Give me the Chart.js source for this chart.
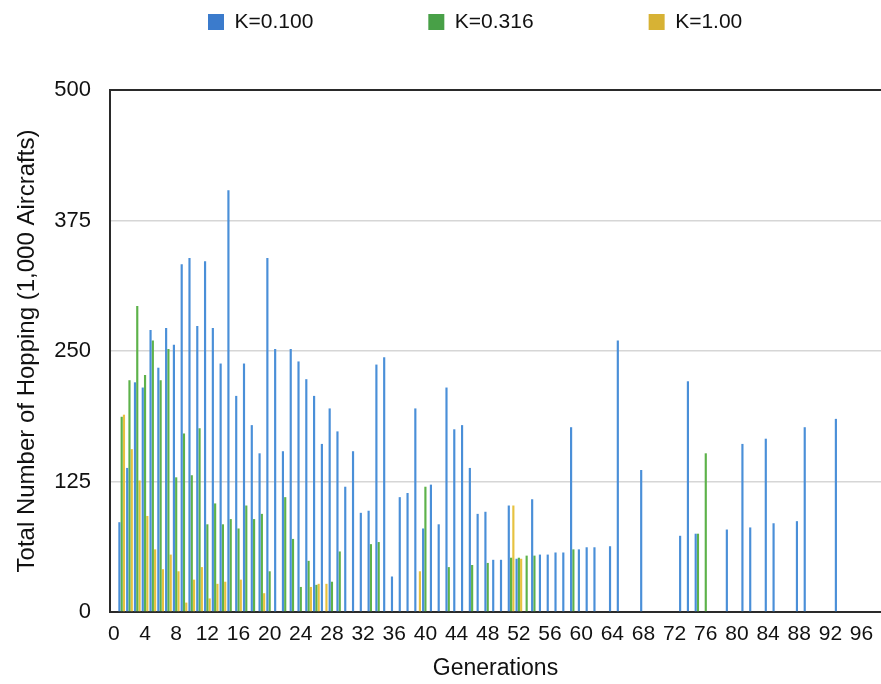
<!DOCTYPE html>
<html>
<head>
<meta charset="utf-8">
<script src="https://cdn.jsdelivr.net/npm/chart.js@4.4.1/dist/chart.umd.min.js"></script>
<style>
  html, body { margin: 0; padding: 0; background: #ffffff; }
  #wrap { width: 881px; height: 684px; position: relative; }
</style>
</head>
<body>
<div id="wrap"><canvas id="c"></canvas></div>
<script>
const generations = ['0','1','2','3','4','5','6','7','8','9','10','11','12','13','14','15','16','17','18','19',
  '20','21','22','23','24','25','26','27','28','29','30','31','32','33','34','35','36','37','38','39',
  '40','41','42','43','44','45','46','47','48','49','50','51','52','53','54','55','56','57','58','59',
  '60','61','62','63','64','65','66','67','68','69','70','71','72','73','74','75','76','77','78','79',
  '80','81','82','83','84','85','86','87','88','89','90','91','92','93','94','95','96','97','98'];

const seriesNames = ['K=0.100', 'K=0.316', 'K=1.00'];

const k0100 = [0,86,138,220,215,270,234,272,256,333,339,274,336,272,238,404,207,238,179,152,
  339,252,154,252,240,223,207,161,195,173,120,154,95,97,237,244,34,110,114,195,
  80,122,84,215,175,179,138,94,96,50,50,102,51,0,108,55,55,57,57,177,
  60,62,62,0,63,260,0,0,136,0,0,0,0,73,221,75,0,0,0,79,
  0,161,81,0,166,85,0,0,87,177,0,0,0,185,0,0,0,0,0];

const k0316 = [0,187,222,293,227,260,222,252,129,171,131,176,84,104,84,89,80,102,89,94,
  39,0,110,70,24,49,26,0,29,58,0,0,0,65,67,0,0,0,0,0,
  120,0,0,43,0,0,45,0,47,0,0,52,52,54,54,0,0,0,0,60,
  0,0,0,0,0,0,0,0,0,0,0,0,0,0,0,75,152,0,0,0,
  0,0,0,0,0,0,0,0,0,0,0,0,0,0,0,0,0,0,0];

const k1000 = [0,189,156,126,92,60,41,55,39,9,31,43,13,27,29,0,31,0,0,18,
  0,0,0,0,0,24,27,27,0,0,0,0,0,0,0,0,0,0,0,39,
  0,0,0,0,0,0,0,0,0,0,0,102,51,0,0,0,0,0,0,0,
  0,0,0,0,0,0,0,0,0,0,0,0,0,0,0,0,0,0,0,0,
  0,0,0,0,0,0,0,0,0,0,0,0,0,0,0,0,0,0,0];

const yTicks = [0, 125, 250, 375, 500];

const barColors = ['#4a8fd8', '#5db24a', '#e7c240'];
const legendColors = ['#3b7bcc', '#48a047', '#d7b234'];

const FONT = '"Liberation Sans", Arial, Helvetica, sans-serif';
Chart.defaults.font.family = FONT;
Chart.defaults.color = '#111';

const LEG_FONT = 21, LEG_BOX = 16, LEG_PAD = 115;
const LEG_START_X = 208, LEG_CENTER_Y = 22;

const legendTweak = {
  id: 'legendTweak',
  afterInit(chart) {
    const lg = chart.legend;
    if (!lg) return;
    const fit0 = lg.fit;
    lg.fit = function () { fit0.call(this); this.height = 90; };
    const draw0 = lg.draw;
    lg.draw = function () {
      const ctx = this.ctx;
      ctx.save();
      ctx.font = LEG_FONT + 'px ' + FONT;
      let sumW = 0;
      (this.legendItems || []).forEach(it => { sumW += LEG_BOX + LEG_FONT / 2 + ctx.measureText(it.text).width; });
      ctx.restore();
      const saved = { top: this.top, bottom: this.bottom, left: this.left, right: this.right };
      const start = (this.left + this.right - sumW - 2 * LEG_PAD) / 2;
      const dx = LEG_START_X - start;
      this.left = saved.left + dx;
      this.right = saved.right + dx;
      this.top = (LEG_CENTER_Y - LEG_FONT / 2) - LEG_PAD;
      this.bottom = saved.bottom;
      draw0.call(this);
      this.top = saved.top; this.bottom = saved.bottom; this.left = saved.left; this.right = saved.right;
    };
  }
};

new Chart(document.getElementById('c'), {
  type: 'bar',
  data: {
    labels: generations,
    datasets: [
      { label: seriesNames[0], data: k0100, backgroundColor: barColors[0], borderWidth: 0 },
      { label: seriesNames[1], data: k0316, backgroundColor: barColors[1], borderWidth: 0 },
      { label: seriesNames[2], data: k1000, backgroundColor: barColors[2], borderWidth: 0 }
    ]
  },
  options: {
    responsive: true,
    maintainAspectRatio: false,
    animation: false,
    devicePixelRatio: 1,
    layout: { padding: { left: 0, right: 0, top: 0, bottom: 0 } },
    datasets: { bar: { categoryPercentage: 0.88, barPercentage: 0.95 } },
    plugins: {
      tooltip: { enabled: false },
      legend: {
        position: 'top',
        align: 'center',
        labels: {
          font: { size: LEG_FONT },
          color: '#111',
          boxWidth: LEG_BOX,
          boxHeight: LEG_BOX,
          padding: LEG_PAD,
          generateLabels(chart) {
            const items = Chart.defaults.plugins.legend.labels.generateLabels(chart);
            items.forEach((it, i) => { it.fillStyle = legendColors[i]; it.strokeStyle = legendColors[i]; it.lineWidth = 0; });
            return items;
          }
        }
      }
    },
    scales: {
      x: {
        type: 'category',
        grid: { display: false, drawTicks: false },
        border: { display: true, color: '#2a2a2a', width: 2 },
        ticks: {
          autoSkip: false,
          maxRotation: 0,
          minRotation: 0,
          padding: 0,
          font: { size: 21, lineHeight: 2.1 },
          color: '#111',
          callback: function (val, idx) { return idx % 4 === 0 ? generations[idx] : ''; }
        },
        title: { display: true, text: 'Generations', font: { size: 23 }, color: '#111', padding: { top: 0, bottom: 2 } },
        afterFit(scale) { scale.height = 72; }
      },
      y: {
        min: 0,
        max: 500,
        afterBuildTicks(scale) { scale.ticks = yTicks.map(v => ({ value: v })); },
        grid: {
          drawTicks: false,
          lineWidth: ctx => (ctx.tick && ctx.tick.value === 500) ? 2 : 1.5,
          color: ctx => (ctx.tick && ctx.tick.value === 500) ? '#2a2a2a' : (ctx.tick && ctx.tick.value === 0 ? 'rgba(0,0,0,0)' : '#d6d6d6')
        },
        border: { display: true, color: '#2a2a2a', width: 2 },
        ticks: { padding: 19, font: { size: 22 }, color: '#111' },
        title: { display: true, text: 'Total Number of Hopping (1,000 Aircrafts)', font: { size: 24 }, color: '#111', padding: { top: 13, bottom: 0 } },
        afterFit(scale) { scale.width = 110; }
      }
    }
  },
  plugins: [legendTweak]
});
</script>
</body>
</html>
